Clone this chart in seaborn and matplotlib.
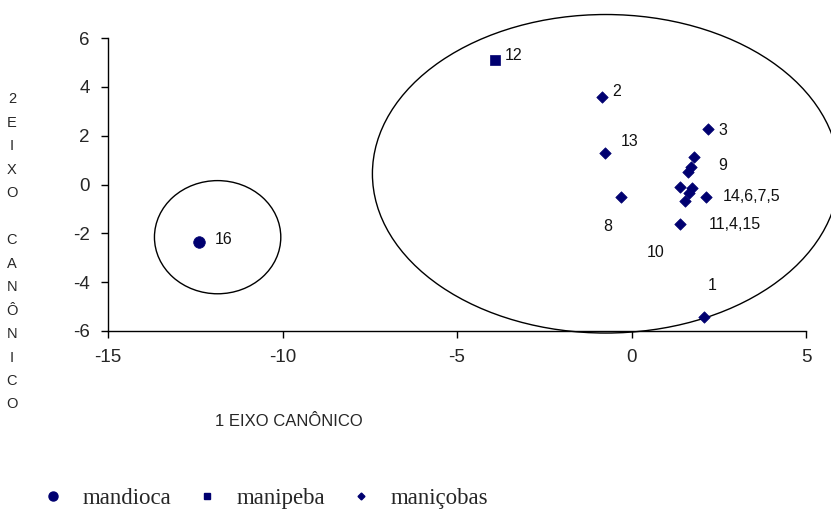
import numpy as np
import pandas as pd
import seaborn as sns
import matplotlib.pyplot as plt
from matplotlib.patches import Ellipse
from matplotlib.lines import Line2D

# Escores canonicos (1o e 2o eixo) dos acessos
eixo1 = [-12.4, -3.9, -0.86, 2.19, -0.76, 1.78, 1.69, 1.62, -0.31,
         1.38, 1.73, 1.64, 1.52, 2.13, 1.38, 2.07]
eixo2 = [-2.36, 5.1, 3.58, 2.27, 1.30, 1.14, 0.70, 0.53, -0.50,
         -0.11, -0.16, -0.36, -0.66, -0.50, -1.62, -5.42]
grupo = ['mandioca', 'manipeba'] + ['maniçobas'] * 14

# rotulos dos pontos
rotulos = ['16', '12', '2', '3', '13', '9', '14,6,7,5', '11,4,15', '8', '10', '1']
rot_x = [-11.94, -3.62, -0.42, 2.62, -0.05, 2.62, 2.62, 2.22, -0.69, 0.69, 2.31]
rot_y = [-2.27, 5.27, 3.83, 2.23, 1.78, 0.80, -0.51, -1.66, -1.74, -2.77, -4.16]

df = pd.DataFrame({'eixo1': eixo1, 'eixo2': eixo2, 'grupo': grupo})

sns.set_style('white')
plt.rcParams['font.family'] = ['Liberation Sans', 'DejaVu Sans']
plt.rcParams['axes.unicode_minus'] = False

azul = '#000070'
marcas = {'mandioca': 'o', 'manipeba': 's', 'maniçobas': 'D'}
tamanhos = {'mandioca': 70, 'manipeba': 48, 'maniçobas': 34}

fig = plt.figure(figsize=(8.31, 5.09), dpi=100)
ax = fig.add_axes([0.130, 0.350, 0.840, 0.575])

for g in ['mandioca', 'manipeba', 'maniçobas']:
    sub = df[df['grupo'] == g]
    sns.scatterplot(data=sub, x='eixo1', y='eixo2', marker=marcas[g],
                    s=tamanhos[g], color=azul, edgecolor=azul, linewidth=0.5,
                    ax=ax, legend=False, zorder=3)

for r, tx, ty in zip(rotulos, rot_x, rot_y):
    ha = 'left' if r in ('16', '12', '14,6,7,5', '11,4,15') else 'center'
    ax.text(tx, ty, r, fontsize=11.5, ha=ha, va='center', color='#111111')

# grupos (elipses)
ax.add_patch(Ellipse((-0.74, 0.44), 13.37, 13.06, fill=False, edgecolor='black',
                     lw=1, clip_on=False))
ax.add_patch(Ellipse((-11.86, -2.16), 3.62, 4.64, fill=False, edgecolor='black',
                     lw=1, clip_on=False))

ax.set_xlim(-15, 5)
ax.set_ylim(-6, 6)
ax.set_xticks([-15, -10, -5, 0, 5])
ax.set_yticks([-6, -4, -2, 0, 2, 4, 6])
ax.tick_params(direction='out', length=5, width=1, color='black',
               labelsize=13.5, pad=8, bottom=True, left=True)
sns.despine(ax=ax)
for sp in ['left', 'bottom']:
    ax.spines[sp].set_color('black')
    ax.spines[sp].set_linewidth(1)
ax.set_xlabel('')
ax.set_ylabel('')

fig.text(0.348, 0.171, '1 EIXO CANÔNICO', fontsize=12, ha='center', va='center')
fig.text(0.0144, 0.505, '\n'.join('2EIXO CANÔNICO'), fontsize=10.5,
         ha='center', va='center', linespacing=1.86)

alcas = [Line2D([], [], marker='o', ls='', color=azul, markersize=6.5),
         Line2D([], [], marker='s', ls='', color=azul, markersize=5),
         Line2D([], [], marker='D', ls='', color=azul, markersize=3.5)]
fig.legend(alcas, ['mandioca', 'manipeba', 'maniçobas'], ncol=3,
           loc='lower left', bbox_to_anchor=(0.025, -0.04), frameon=False,
           prop={'family': 'Liberation Serif', 'size': 16.5},
           handletextpad=0.8, columnspacing=1.05, handlelength=1)

fig.savefig('out.png', dpi=100)
